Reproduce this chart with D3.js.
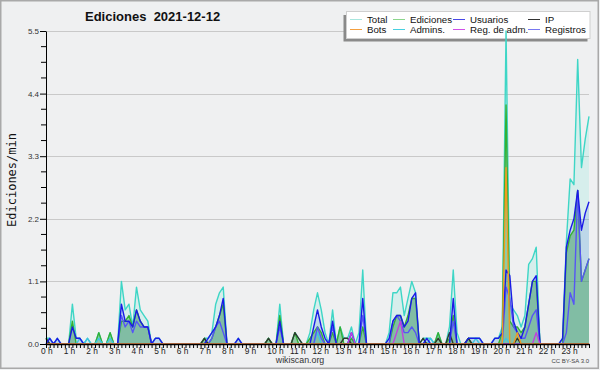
<!DOCTYPE html>
<html>
<head>
<meta charset="utf-8">
<script src="https://cdn.jsdelivr.net/npm/d3@7"></script>
<style>
  body { margin: 0; background: #eff0f1; }
  svg { display: block; }
</style>
</head>
<body>
<svg id="chart" width="600" height="370"></svg>
<script>
// Edits per minute, one value every 10 minutes (00:00 ... 24:00)
var minutes = d3.range(0, 1450, 10);

var total = [
  0.1, 0.1, 0, 0.1, 0, 0,        // 0 h
  0, 0.7, 0.1, 0.1, 0, 0.1,      // 1 h
  0, 0, 0.2, 0, 0, 0.2,          // 2 h
  0, 0, 1.1, 0.6, 0.7, 0.3,      // 3 h
  1.0, 0.6, 0.5, 0.4, 0, 0.1,    // 4 h
  0.1, 0, 0, 0, 0, 0,            // 5 h
  0, 0, 0, 0, 0, 0,              // 6 h
  0.1, 0.1, 0.2, 0.7, 0.9, 1.0,  // 7 h
  0, 0, 0, 0.1, 0, 0,            // 8 h
  0, 0, 0, 0, 0, 0.1,            // 9 h
  0, 0, 0.7, 0, 0, 0,            // 10 h
  0.2, 0.1, 0, 0, 0.2, 0.6,      // 11 h
  0.9, 0.6, 0.2, 0, 0.6, 0,      // 12 h
  0.3, 0.1, 0.1, 0.3, 0, 0.2,    // 13 h
  1.3, 0, 0, 0, 0, 0,            // 14 h
  0, 0.2, 0.9, 0.9, 1.0, 0.5,    // 15 h
  0.8, 1.1, 0.9, 0, 0.1, 0.1,    // 16 h
  0.1, 0, 0.2, 0, 0, 0.3,        // 17 h
  1.3, 0.2, 0, 0, 0.1, 0.1,      // 18 h
  0.1, 0.1, 0, 0, 0, 0.1,        // 19 h
  0.1, 0.3, 5.5, 0.7, 0.6, 0.5,  // 20 h
  0.3, 0.5, 1.4, 1.5, 1.7, 0,    // 21 h
  0, 0, 0, 0, 0, 0.1,            // 22 h
  1.8, 2.9, 2.8, 5.0, 3.1, 3.6,  // 23 h
  4.0
];

var ediciones = [
  0.1, 0, 0, 0, 0, 0,
  0, 0.4, 0, 0, 0, 0,
  0, 0, 0.2, 0, 0, 0.2,
  0, 0, 0.4, 0.4, 0.5, 0.3,
  0.6, 0.4, 0.3, 0.3, 0, 0,
  0, 0, 0, 0, 0, 0,
  0, 0, 0, 0, 0, 0,
  0.1, 0, 0.1, 0.3, 0.5, 0.7,
  0, 0, 0, 0, 0, 0,
  0, 0, 0, 0, 0, 0.1,
  0, 0, 0.5, 0, 0, 0,
  0.2, 0, 0, 0, 0.1, 0.2,
  0.3, 0.2, 0, 0, 0.2, 0,
  0.3, 0, 0, 0.1, 0, 0,
  0.3, 0, 0, 0, 0, 0,
  0, 0, 0.3, 0.5, 0.5, 0.3,
  0.5, 0.8, 0.8, 0, 0, 0,
  0, 0, 0.2, 0, 0, 0.1,
  0.5, 0, 0, 0, 0.1, 0,
  0, 0, 0, 0, 0, 0,
  0, 0.2, 4.2, 0.4, 0.3, 0.3,
  0.2, 0.3, 0.7, 1.1, 1.1, 0,
  0, 0, 0, 0, 0, 0,
  1.6, 1.9, 2.0, 2.7, 1.1, 1.3,
  1.5
];

var usuarios = [
  0, 0.1, 0, 0.1, 0, 0,
  0, 0.3, 0.1, 0.1, 0, 0,
  0, 0, 0, 0, 0, 0,
  0, 0, 0.7, 0.4, 0.4, 0.3,
  0.6, 0.4, 0.3, 0.3, 0, 0.1,
  0.1, 0, 0, 0, 0, 0,
  0, 0, 0, 0, 0, 0,
  0, 0.1, 0.2, 0.3, 0.5, 0.8,
  0, 0, 0, 0.1, 0, 0,
  0, 0, 0, 0, 0, 0,
  0, 0, 0.4, 0, 0, 0,
  0, 0, 0, 0, 0, 0.3,
  0.6, 0.3, 0.1, 0, 0.4, 0,
  0, 0, 0, 0.2, 0, 0,
  0.8, 0, 0, 0, 0, 0,
  0, 0.1, 0.4, 0.5, 0.5, 0.3,
  0.4, 0.8, 0.9, 0, 0, 0.1,
  0, 0, 0, 0, 0, 0,
  0.8, 0, 0, 0, 0.1, 0.1,
  0.1, 0.1, 0, 0, 0, 0.1,
  0.1, 0.2, 1.3, 1.2, 0.4, 0.2,
  0.1, 0.3, 0.7, 1.1, 1.2, 0,
  0, 0, 0, 0, 0, 0.1,
  1.7, 2.0, 2.2, 2.7, 2.0, 2.3,
  2.5
];

var ip = [
  0.1, 0, 0, 0, 0, 0,
  0, 0, 0, 0, 0, 0,
  0, 0, 0, 0, 0, 0,
  0, 0, 0, 0, 0, 0,
  0, 0, 0, 0, 0, 0,
  0, 0, 0, 0, 0, 0,
  0, 0, 0, 0, 0, 0,
  0.1, 0, 0, 0, 0, 0,
  0, 0, 0, 0, 0, 0,
  0, 0, 0, 0, 0, 0.1,
  0, 0, 0, 0, 0, 0,
  0.2, 0.1, 0, 0, 0, 0,
  0, 0, 0, 0, 0, 0,
  0, 0.1, 0.1, 0, 0, 0,
  0, 0, 0, 0, 0, 0,
  0, 0, 0, 0, 0, 0,
  0, 0, 0, 0, 0.1, 0,
  0, 0, 0.1, 0, 0, 0.2,
  0, 0, 0, 0, 0.1, 0,
  0, 0, 0, 0, 0, 0,
  0, 0, 0, 0, 0, 0.1,
  0, 0, 0, 0, 0, 0,
  0, 0, 0, 0, 0, 0,
  0, 0, 0, 0, 0, 0,
  0
];

var bots = [
  0, 0, 0, 0, 0, 0,
  0, 0, 0, 0, 0, 0,
  0, 0, 0, 0, 0, 0,
  0, 0, 0, 0, 0, 0,
  0, 0, 0, 0, 0, 0,
  0, 0, 0, 0, 0, 0,
  0, 0, 0, 0, 0, 0,
  0, 0, 0, 0, 0, 0,
  0, 0, 0, 0, 0, 0,
  0, 0, 0, 0, 0, 0,
  0, 0, 0, 0, 0, 0,
  0, 0, 0, 0, 0, 0,
  0, 0, 0, 0, 0, 0,
  0, 0, 0, 0, 0, 0,
  0, 0, 0, 0, 0, 0,
  0, 0, 0, 0, 0, 0,
  0, 0, 0, 0, 0, 0,
  0, 0, 0, 0, 0, 0,
  0, 0, 0, 0, 0, 0,
  0, 0, 0, 0, 0, 0,
  0, 0, 3.1, 0, 0, 0.2,
  0, 0, 0, 0, 0, 0,
  0, 0, 0, 0, 0, 0,
  0, 0, 0, 0, 0, 0,
  0
];

var admins = [
  0, 0, 0, 0, 0, 0,
  0, 0, 0, 0.1, 0, 0.1,
  0, 0, 0.1, 0, 0, 0.1,
  0, 0, 0, 0, 0, 0,
  0, 0, 0, 0, 0, 0,
  0, 0, 0, 0, 0, 0,
  0, 0, 0, 0, 0, 0,
  0, 0, 0, 0, 0, 0,
  0, 0, 0, 0, 0, 0,
  0, 0, 0, 0, 0, 0,
  0, 0, 0, 0, 0, 0,
  0, 0, 0, 0, 0, 0,
  0.2, 0, 0, 0, 0, 0,
  0, 0, 0, 0.2, 0, 0,
  0, 0, 0, 0, 0, 0,
  0, 0, 0, 0, 0, 0,
  0, 0, 0, 0, 0, 0,
  0.1, 0, 0, 0, 0, 0,
  0, 0, 0, 0, 0, 0,
  0.1, 0, 0, 0, 0, 0,
  0, 0, 0.1, 0, 0, 0,
  0, 0, 0, 0, 0, 0,
  0, 0, 0, 0, 0, 0,
  0, 0, 0, 0, 0, 0,
  0
];

var regAdm = [
  0, 0, 0, 0, 0, 0,
  0, 0, 0, 0, 0, 0,
  0, 0, 0, 0, 0, 0,
  0, 0, 0, 0, 0, 0,
  0, 0, 0, 0, 0, 0,
  0, 0, 0, 0, 0, 0,
  0, 0, 0, 0, 0, 0,
  0, 0, 0, 0, 0, 0,
  0, 0, 0, 0, 0, 0,
  0, 0, 0, 0, 0, 0,
  0, 0, 0, 0, 0, 0,
  0, 0, 0, 0, 0, 0,
  0, 0, 0, 0, 0, 0,
  0, 0, 0, 0.2, 0, 0,
  0, 0, 0, 0, 0, 0,
  0, 0, 0, 0.2, 0.4, 0,
  0, 0, 0, 0, 0, 0,
  0, 0, 0, 0, 0, 0,
  0, 0, 0, 0, 0, 0,
  0, 0, 0, 0, 0, 0,
  0, 0, 0, 0, 0, 0,
  0, 0, 0, 0, 0.2, 0,
  0, 0, 0, 0, 0, 0,
  0, 0, 0, 0, 0, 0,
  0
];

var registros = [
  0, 0, 0, 0, 0, 0,
  0, 0, 0, 0, 0, 0,
  0, 0, 0, 0, 0, 0,
  0, 0, 0.5, 0.3, 0.4, 0.2,
  0.4, 0.3, 0.3, 0.3, 0, 0,
  0, 0, 0, 0, 0, 0,
  0, 0, 0, 0, 0, 0,
  0, 0, 0.1, 0.3, 0.4, 0.2,
  0, 0, 0, 0, 0, 0,
  0, 0, 0, 0, 0, 0,
  0, 0, 0.3, 0, 0, 0,
  0, 0, 0, 0, 0, 0,
  0.3, 0.1, 0, 0, 0.3, 0,
  0, 0, 0, 0, 0, 0,
  0.5, 0, 0, 0, 0, 0,
  0, 0, 0.4, 0.5, 0.4, 0.2,
  0.2, 0.3, 0.2, 0, 0, 0,
  0, 0, 0, 0, 0, 0,
  0.4, 0, 0, 0, 0, 0,
  0, 0, 0, 0, 0, 0,
  0, 0, 1.0, 0.8, 0.3, 0.2,
  0.1, 0.1, 0.3, 0.5, 0.6, 0,
  0, 0, 0, 0, 0, 0,
  0.2, 0.9, 0.7, 2.7, 1.1, 1.3,
  1.5
];

var yTicks = [0, 1.1, 2.2, 3.3, 4.4, 5.5];
var hourLabels = ["0 h", "1 h", "2 h", "3 h", "4 h", "5 h", "6 h", "7 h", "8 h", "9 h", "10 h", "11 h",
                  "12 h", "13 h", "14 h", "15 h", "16 h", "17 h", "18 h", "19 h", "20 h", "21 h", "22 h", "23 h"];

var legendNames = [["Total", "Ediciones", "Usuarios", "IP"],
                   ["Bots", "Admins.", "Reg. de adm.", "Registros"]];

// plot box
var plotLeft = 46, plotRight = 589, plotTop = 31, plotBottom = 344;

var svg = d3.select("#chart");
var x = d3.scaleLinear().domain([0, 1440]).range([plotLeft, plotRight]);
var y = d3.scaleLinear().domain([0, 5.5]).range([plotBottom, plotTop]);

var fontSans = "'Liberation Sans', Arial, sans-serif";

// background and frame
svg.append("rect")
    .attr("x", 0.75).attr("y", 0.75)
    .attr("width", 597.5).attr("height", 367.5)
    .attr("fill", "#eff0f1")
    .attr("stroke", "#a9a9a9")
    .attr("stroke-width", 1.5);

// grid lines
svg.append("g").selectAll("line")
    .data(yTicks.slice(1))
    .enter().append("line")
    .attr("x1", plotLeft).attr("x2", plotRight)
    .attr("y1", d => Math.round(y(d)) + 0.5).attr("y2", d => Math.round(y(d)) + 0.5)
    .attr("stroke", "#c9c9c9");

// legend (drawn under the data, the 20 h spike crosses it)
var legendCols = [350, 393, 453, 528];
var legendRows = [19, 29];
var legendColors = [["#a8e6de", "#8cd68c", "#4848e8", "#333333"],
                    ["#f4a040", "#48d0e0", "#d050e8", "#7878f0"]];

var legend = svg.append("g");
legend.append("rect")
    .attr("x", 343.5).attr("y", 15)
    .attr("width", 244).attr("height", 26.5)
    .attr("fill", "#8a8a8a");
legend.append("rect")
    .attr("x", 346.5).attr("y", 11.5)
    .attr("width", 243.5).attr("height", 27)
    .attr("fill", "#ffffff")
    .attr("stroke", "#cfcfcf");

legendNames.forEach(function(row, r) {
    row.forEach(function(name, c) {
        legend.append("line")
            .attr("x1", legendCols[c]).attr("x2", legendCols[c] + 12)
            .attr("y1", legendRows[r] + 0.5).attr("y2", legendRows[r] + 0.5)
            .attr("stroke", legendColors[r][c])
            .attr("stroke-width", 1);
        legend.append("text")
            .attr("x", legendCols[c] + 17)
            .attr("y", legendRows[r] + 3.5)
            .style("font-family", fontSans)
            .style("font-size", "9.7px")
            .style("fill", "#111")
            .text(name);
    });
});

// filled areas
function areaPath(vals) {
    return d3.area()
        .x((d, i) => x(minutes[i]))
        .y0(y(0))
        .y1(d => y(d))(vals);
}
function linePath(vals) {
    return d3.line()
        .x((d, i) => x(minutes[i]))
        .y(d => y(d))(vals);
}

var fills = [
    {vals: total, color: "rgba(64,224,208,0.14)"},
    {vals: usuarios, color: "rgba(60,100,220,0.16)"},
    {vals: ediciones, color: "rgba(40,150,60,0.40)"}
];
fills.forEach(function(f) {
    svg.append("path")
        .attr("d", areaPath(f.vals))
        .attr("fill", f.color);
});

var lines = [
    {vals: total, color: "#3ed6c6"},
    {vals: ediciones, color: "#34b034"},
    {vals: admins, color: "#40c4e0"},
    {vals: ip, color: "#2c3a2c"},
    {vals: registros, color: "#5656f4"},
    {vals: usuarios, color: "#1a1ae6"},
    {vals: regAdm, color: "#c040e0"},
    {vals: bots, color: "#f09a20"}
];
lines.forEach(function(l) {
    svg.append("path")
        .attr("d", linePath(l.vals))
        .attr("fill", "none")
        .attr("stroke", l.color)
        .attr("stroke-width", 1.4)
        .attr("stroke-linejoin", "round");
});

// y axis
var yAxis = d3.axisLeft(y)
    .tickValues(yTicks)
    .tickFormat(d3.format(".1f"))
    .tickSize(6)
    .tickSizeOuter(0)
    .tickPadding(1);
var gy = svg.append("g")
    .attr("transform", "translate(" + plotLeft + ",0)")
    .call(yAxis);
gy.selectAll("text")
    .style("font-family", fontSans)
    .style("font-size", "8px")
    .style("fill", "#333");

// minor y ticks
var minorY = d3.range(0, 20).map(k => k * 0.275).filter(v => Math.abs(v / 1.1 - Math.round(v / 1.1)) > 0.01);
svg.append("g").selectAll("line")
    .data(minorY)
    .enter().append("line")
    .attr("x1", plotLeft - 5).attr("x2", plotLeft)
    .attr("y1", d => y(d)).attr("y2", d => y(d))
    .attr("stroke", "#000");

// x axis: a tick every 10 minutes, labels on the hours
var xAxis = d3.axisBottom(x)
    .tickValues(minutes)
    .tickFormat("")
    .tickSize(4)
    .tickSizeOuter(0);
var gx = svg.append("g")
    .attr("transform", "translate(0," + plotBottom + ")")
    .call(xAxis);
gx.select(".domain").attr("stroke-width", 1.6);

svg.append("g").selectAll("text")
    .data(hourLabels)
    .enter().append("text")
    .attr("x", (d, i) => x(i * 60) - 5)
    .attr("y", 353.5)
    .style("font-family", fontSans)
    .style("font-size", "8.4px")
    .style("fill", "#222")
    .text(d => d);

// titles
svg.append("text")
    .attr("x", 85).attr("y", 21)
    .style("font-family", fontSans)
    .style("font-weight", "bold")
    .style("font-size", "13px")
    .style("fill", "#111")
    .style("white-space", "pre")
    .text("Ediciones  2021-12-12");

svg.append("text")
    .attr("transform", "translate(16,180) rotate(-90)")
    .attr("text-anchor", "middle")
    .style("font-family", "'DejaVu Sans Mono', monospace")
    .style("font-size", "12px")
    .style("fill", "#111")
    .text("Ediciones/min");

svg.append("text")
    .attr("x", 300).attr("y", 362.5)
    .attr("text-anchor", "middle")
    .style("font-family", fontSans)
    .style("font-size", "8.8px")
    .style("fill", "#333")
    .text("wikiscan.org");

svg.append("text")
    .attr("x", 589).attr("y", 362.5)
    .attr("text-anchor", "end")
    .style("font-family", fontSans)
    .style("font-size", "6px")
    .style("fill", "#444")
    .text("CC BY-SA 3.0");
</script>
</body>
</html>
